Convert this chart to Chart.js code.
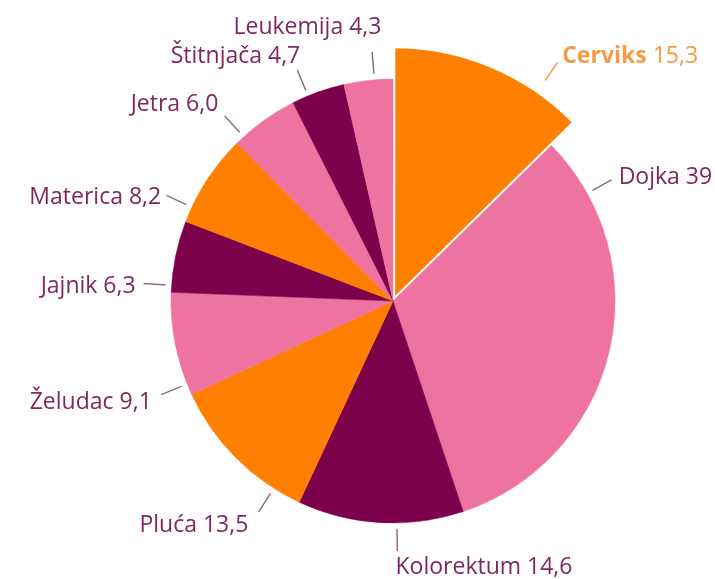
<!DOCTYPE html>
<html>
<head>
<meta charset="utf-8">
<title>Incidencija raka kod žena</title>
<script src="https://cdn.jsdelivr.net/npm/chart.js@4.4.1/dist/chart.umd.min.js"></script>
<style>
    html, body { margin: 0; padding: 0; background: #ffffff; }
    #wrap { width: 715px; height: 579px; }
</style>
</head>
<body>
<div id="wrap"><canvas id="pieChart" width="715" height="579"></canvas></div>
<script>
/* data */
const sites = ['Cerviks', 'Dojka', 'Kolorektum', 'Pluća', 'Želudac', 'Jajnik', 'Materica', 'Jetra', 'Štitnjača', 'Leukemija'];
const rates = [15.3, 39, 14.6, 13.5, 9.1, 6.3, 8.2, 6.0, 4.7, 4.3];
const rateLabels = ['15,3', '39', '14,6', '13,5', '9,1', '6,3', '8,2', '6,0', '4,7', '4,3'];

/* styling + label layout */
const ORANGE = '#FF8000';
const PINK = '#EF73A0';
const PLUM = '#7D004A';
const sliceColors = [ORANGE, PINK, PLUM, ORANGE, PINK, PLUM, ORANGE, PINK, PLUM, PINK];
const highlight = 0; // Cerviks is pulled out and drawn larger
const otherRadiusRatio = 222 / 250;

// angle (deg, clockwise from 12 o'clock) of each leader line
const leaderAngles = [34.6, 61, 179, 212.5, 248, 274, 295, 317.7, 337.5, 355.2];
const labelNudge = [[0, 0], [0, 0], [-2, 1], [-6, 0], [-2, 0], [0, 0], [2, 3], [-1, -6], [6, -6], [10, -16]];

const LABEL_COLOR = '#7F275E';
const LINE_COLOR = '#8E6D87';
const CERVIX_LABEL_COLOR = '#F59A45';
const FONT = '"Open Sans", "Noto Sans", sans-serif';
const FONT_SIZE = 23;

// shrink every slice except the highlighted one
const sliceRadius = {
    id: 'sliceRadius',
    afterDatasetsUpdate(chart) {
        chart.getDatasetMeta(0).data.forEach((arc, i) => {
            if (i !== highlight) arc.outerRadius = arc.outerRadius * otherRadiusRatio;
        });
    }
};

// outside labels with short leader lines
const leaderLabels = {
    id: 'leaderLabels',
    afterDatasetsDraw(chart) {
        const ctx = chart.ctx;
        const arcs = chart.getDatasetMeta(0).data;
        ctx.save();
        arcs.forEach((arc, i) => {
            const a = leaderAngles[i] * Math.PI / 180;
            const sn = Math.sin(a), cs = Math.cos(a);
            const r0 = arc.outerRadius + 6 + (arc.options.offset || 0);
            const r1 = r0 + 22;
            const x0 = arc.x + r0 * sn, y0 = arc.y - r0 * cs;
            const x1 = arc.x + r1 * sn, y1 = arc.y - r1 * cs;

            ctx.strokeStyle = i === highlight ? CERVIX_LABEL_COLOR : LINE_COLOR;
            ctx.lineWidth = 1.5;
            ctx.beginPath();
            ctx.moveTo(x0, y0);
            ctx.lineTo(x1, y1);
            ctx.stroke();

            const boldPart = i === highlight ? sites[i] : '';
            const plainPart = i === highlight ? ' ' + rateLabels[i] : sites[i] + ' ' + rateLabels[i];
            ctx.font = 'bold ' + FONT_SIZE + 'px ' + FONT;
            const wBold = boldPart ? ctx.measureText(boldPart).width : 0;
            ctx.font = FONT_SIZE + 'px ' + FONT;
            const wPlain = ctx.measureText(plainPart).width;
            const width = wBold + wPlain;

            let tx = x1 + 8 * sn + labelNudge[i][0];
            if (sn < 0) tx -= width;
            const mid = y1 - 12 * cs + 2 + labelNudge[i][1];
            const baseline = mid + FONT_SIZE * 0.36;

            ctx.textAlign = 'left';
            ctx.textBaseline = 'alphabetic';
            ctx.fillStyle = i === highlight ? CERVIX_LABEL_COLOR : LABEL_COLOR;
            if (boldPart) {
                ctx.font = 'bold ' + FONT_SIZE + 'px ' + FONT;
                ctx.fillText(boldPart, tx, baseline);
            }
            ctx.font = FONT_SIZE + 'px ' + FONT;
            ctx.fillText(plainPart, tx + wBold, baseline);
        });
        ctx.restore();
    }
};

const ctx = document.getElementById('pieChart').getContext('2d');
new Chart(ctx, {
    type: 'pie',
    data: {
        labels: sites,
        datasets: [{
            data: rates,
            backgroundColor: sliceColors,
            borderColor: sliceColors.map((c, i) => i === highlight ? '#ffffff' : c),
            borderWidth: sliceColors.map((c, i) => i === highlight ? 2 : 0.5),
            offset: sliceColors.map((c, i) => i === highlight ? 12 : 0)
        }]
    },
    options: {
        responsive: false,
        animation: false,
        events: [],
        layout: {
            padding: { top: 44, bottom: 21, left: 136, right: 65 }
        },
        plugins: {
            legend: { display: false },
            tooltip: { enabled: false }
        }
    },
    plugins: [sliceRadius, leaderLabels]
});
</script>
</body>
</html>
